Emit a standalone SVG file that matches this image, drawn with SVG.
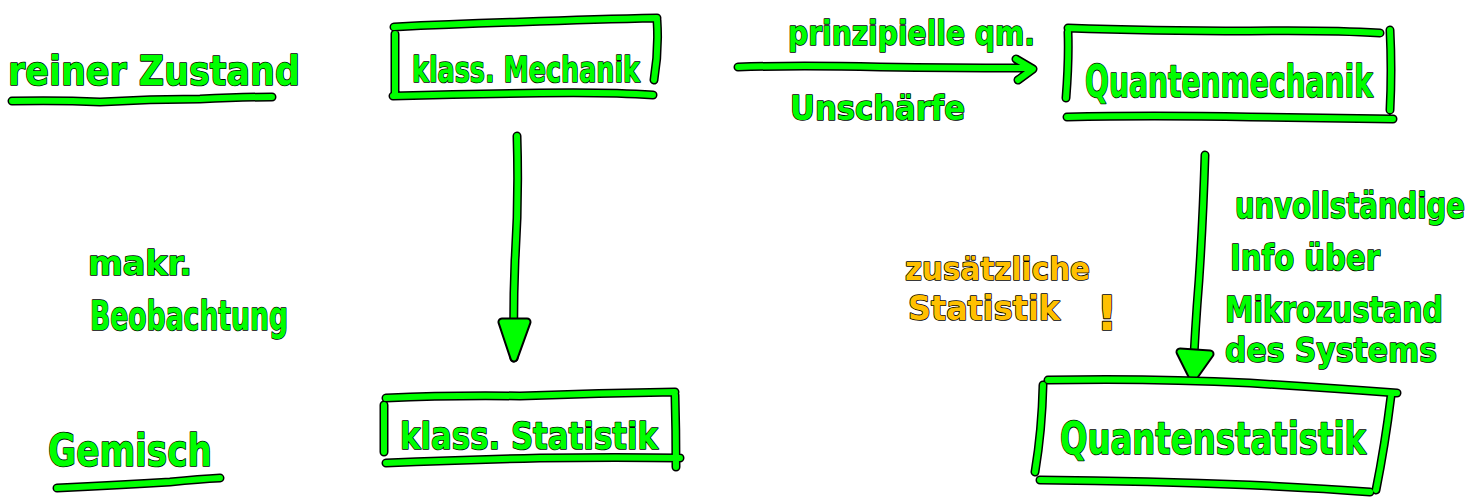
<svg xmlns="http://www.w3.org/2000/svg" xmlns:xlink="http://www.w3.org/1999/xlink" width="1479" height="498" viewBox="0 0 1479 498">
  <style>
    .bg { fill: #ffffff; }
    .ol { fill: none; stroke: #000000; stroke-width: 9; stroke-linecap: round; stroke-linejoin: round; }
    .ln { fill: none; stroke: #00ff00; stroke-width: 6; stroke-linecap: round; stroke-linejoin: round; }
    .hd-ol { fill: #000000; stroke: #000000; stroke-width: 9; stroke-linejoin: round; }
    .hd { fill: #00ff00; stroke: #00ff00; stroke-width: 5; stroke-linejoin: round; }
    .t { font-family: "DejaVu Sans", "Liberation Sans", sans-serif; font-weight: bold; fill: #00ff00; stroke: #000000; stroke-width: 1.6; paint-order: stroke; stroke-linejoin: round; }
    .o { fill: #ffc000; }
  </style>
  <defs>
    <!-- hand-drawn strokes, each rendered as a black outline under a green line -->
    <path id="ul-rein" d="M12,101 Q60,100 100,102 Q150,99 200,99 Q240,97 272,97"/>
    <path id="box-km" d="M394,27 Q450,24 520,22 Q600,19 657,18 M395,34 L395,95 M657,20 Q659,50 654,80 M393,96 Q470,94 540,93 Q610,92 653,95"/>
    <path id="box-ks" d="M386,398 Q450,395 520,396 Q600,393 675,392 M384,405 L384,452 M675,395 Q676,430 676,467 M386,463 Q460,460 540,458 Q620,457 680,458"/>
    <path id="box-qm" d="M1068,28 Q1150,31 1250,31 Q1330,30 1380,33 M1068,32 Q1069,60 1066,98 M1390,30 Q1392,70 1390,110 M1067,117 Q1150,115 1250,117 Q1330,118 1393,119"/>
    <path id="box-qs" d="M1048,380 Q1150,378 1250,383 Q1330,388 1397,393 M1043,385 Q1042,430 1035,472 M1040,480 Q1150,481 1250,485 Q1320,488 1370,492 M1391,396 Q1385,445 1376,490"/>
    <path id="ul-gem" d="M57,488 Q120,485 170,482 Q200,479 220,478"/>
    <path id="ar-down1" d="M517,136 Q519,200 515,260 Q513,310 514,358"/>
    <path id="ar-right" d="M738,67 Q800,65 880,67 Q960,68 1030,68 M1016,59 L1033,69 L1018,80"/>
    <path id="ar-down2" d="M1205,155 Q1203,220 1199,280 Q1195,330 1193,376"/>
  </defs>

  <rect class="bg" x="0" y="0" width="1479" height="498"/>

  <!-- connectors -->
  <g id="connectors">
    <use href="#ar-down1" class="ol"/>
    <use href="#ar-down1" class="ln"/>
    <path class="hd-ol" d="M502,322 L527,322 L514,358 Z"/>
    <path class="hd" d="M502,322 L527,322 L514,358 Z"/>
    <use href="#ar-right" class="ol"/>
    <use href="#ar-right" class="ln"/>
    <use href="#ar-down2" class="ol"/>
    <use href="#ar-down2" class="ln"/>
    <path class="hd-ol" d="M1180,352 L1210,354 L1193,378 Z"/>
    <path class="hd" d="M1180,352 L1210,354 L1193,378 Z"/>
  </g>

  <!-- row labels -->
  <g id="label-reiner-zustand">
    <text class="t" x="8" y="85" font-size="40" textLength="292" lengthAdjust="spacingAndGlyphs">reiner Zustand</text>
    <use href="#ul-rein" class="ol"/>
    <use href="#ul-rein" class="ln"/>
  </g>

  <g id="label-gemisch">
    <text class="t" x="48" y="466" font-size="44" textLength="164" lengthAdjust="spacingAndGlyphs">Gemisch</text>
    <use href="#ul-gem" class="ol"/>
    <use href="#ul-gem" class="ln"/>
  </g>

  <g id="label-makr">
    <text class="t" x="88" y="275" font-size="34" textLength="104" lengthAdjust="spacingAndGlyphs">makr.</text>
    <text class="t" x="90" y="330" font-size="40" textLength="198" lengthAdjust="spacingAndGlyphs">Beobachtung</text>
  </g>

  <!-- nodes -->
  <g id="node-klass-mechanik">
    <use href="#box-km" class="ol"/>
    <use href="#box-km" class="ln"/>
    <text class="t" x="412" y="82" font-size="36" textLength="228" lengthAdjust="spacingAndGlyphs">klass. Mechanik</text>
  </g>

  <g id="node-klass-statistik">
    <use href="#box-ks" class="ol"/>
    <use href="#box-ks" class="ln"/>
    <text class="t" x="400" y="449" font-size="38" textLength="258" lengthAdjust="spacingAndGlyphs">klass. Statistik</text>
  </g>

  <g id="node-quantenmechanik">
    <use href="#box-qm" class="ol"/>
    <use href="#box-qm" class="ln"/>
    <!-- horizontally condensed: 450 units wide before scaling -> 288 px -->
    <text class="t" transform="scale(0.64,1)" x="1695.3" y="97" font-size="44" textLength="450" lengthAdjust="spacingAndGlyphs">Quantenmechanik</text>
  </g>

  <g id="node-quantenstatistik">
    <use href="#box-qs" class="ol"/>
    <use href="#box-qs" class="ln"/>
    <text class="t" x="1060" y="454" font-size="44" textLength="306" lengthAdjust="spacingAndGlyphs">Quantenstatistik</text>
  </g>

  <!-- connector labels -->
  <g id="label-unschaerfe">
    <text class="t" x="788" y="45" font-size="34" textLength="247" lengthAdjust="spacingAndGlyphs">prinzipielle qm.</text>
    <text class="t" x="790" y="120" font-size="34" textLength="175" lengthAdjust="spacingAndGlyphs">Unschärfe</text>
  </g>

  <g id="label-info">
    <text class="t" transform="scale(0.764,1)" x="1616.5" y="218" font-size="36" textLength="301" lengthAdjust="spacingAndGlyphs">unvollständige</text>
    <text class="t" x="1230" y="270" font-size="36" textLength="150" lengthAdjust="spacingAndGlyphs">Info über</text>
    <text class="t" transform="scale(0.79,1)" x="1550.6" y="322" font-size="36" textLength="276" lengthAdjust="spacingAndGlyphs">Mikrozustand</text>
    <text class="t" x="1225" y="362" font-size="34" textLength="212" lengthAdjust="spacingAndGlyphs">des Systems</text>
  </g>

  <g id="label-zusaetzlich">
    <text class="t o" x="905" y="280" font-size="32" textLength="185" lengthAdjust="spacingAndGlyphs">zusätzliche</text>
    <text class="t o" x="908" y="320" font-size="34" textLength="152" lengthAdjust="spacingAndGlyphs">Statistik</text>
    <text class="t o" x="1096" y="330" font-size="48">!</text>
  </g>
</svg>
